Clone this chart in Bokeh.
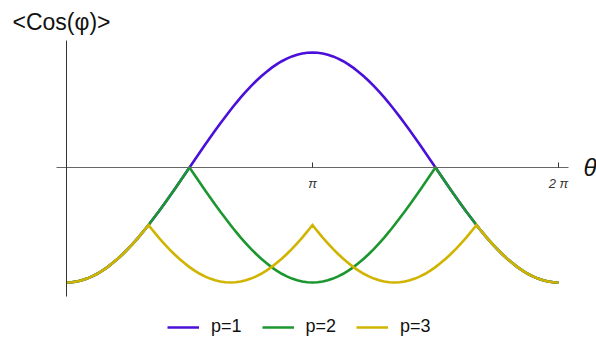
import math
from bokeh.plotting import figure
from bokeh.models import (Range1d, LinearAxis, FixedTicker, Legend,
                          LegendItem, Label)
from bokeh.embed import file_html
from bokeh.resources import INLINE

# ---- data ----
theta_deg = [0, 3.75, 7.5, 11.25, 15, 18.75, 22.5, 26.25, 30, 33.75, 37.5, 41.25,
             45, 48.75, 52.5, 56.25, 60, 63.75, 67.5, 71.25, 75, 78.75, 82.5, 86.25,
             90, 93.75, 97.5, 101.25, 105, 108.75, 112.5, 116.25, 120, 123.75, 127.5, 131.25,
             135, 138.75, 142.5, 146.25, 150, 153.75, 157.5, 161.25, 165, 168.75, 172.5, 176.25,
             180, 183.75, 187.5, 191.25, 195, 198.75, 202.5, 206.25, 210, 213.75, 217.5, 221.25,
             225, 228.75, 232.5, 236.25, 240, 243.75, 247.5, 251.25, 255, 258.75, 262.5, 266.25,
             270, 273.75, 277.5, 281.25, 285, 288.75, 292.5, 296.25, 300, 303.75, 307.5, 311.25,
             315, 318.75, 322.5, 326.25, 330, 333.75, 337.5, 341.25, 345, 348.75, 352.5, 356.25,
             360]

p1 = [-1.000, -0.998, -0.991, -0.981, -0.966, -0.947, -0.924, -0.897, -0.866, -0.831, -0.793, -0.752,
      -0.707, -0.659, -0.609, -0.556, -0.500, -0.442, -0.383, -0.321, -0.259, -0.195, -0.131, -0.065,
      0.000, 0.065, 0.131, 0.195, 0.259, 0.321, 0.383, 0.442, 0.500, 0.556, 0.609, 0.659,
      0.707, 0.752, 0.793, 0.831, 0.866, 0.897, 0.924, 0.947, 0.966, 0.981, 0.991, 0.998,
      1.000, 0.998, 0.991, 0.981, 0.966, 0.947, 0.924, 0.897, 0.866, 0.831, 0.793, 0.752,
      0.707, 0.659, 0.609, 0.556, 0.500, 0.442, 0.383, 0.321, 0.259, 0.195, 0.131, 0.065,
      0.000, -0.065, -0.131, -0.195, -0.259, -0.321, -0.383, -0.442, -0.500, -0.556, -0.609, -0.659,
      -0.707, -0.752, -0.793, -0.831, -0.866, -0.897, -0.924, -0.947, -0.966, -0.981, -0.991, -0.998,
      -1.000]

p2 = [-1.000, -0.998, -0.991, -0.981, -0.966, -0.947, -0.924, -0.897, -0.866, -0.831, -0.793, -0.752,
      -0.707, -0.659, -0.609, -0.556, -0.500, -0.442, -0.383, -0.321, -0.259, -0.195, -0.131, -0.065,
      0.000, -0.065, -0.131, -0.195, -0.259, -0.321, -0.383, -0.442, -0.500, -0.556, -0.609, -0.659,
      -0.707, -0.752, -0.793, -0.831, -0.866, -0.897, -0.924, -0.947, -0.966, -0.981, -0.991, -0.998,
      -1.000, -0.998, -0.991, -0.981, -0.966, -0.947, -0.924, -0.897, -0.866, -0.831, -0.793, -0.752,
      -0.707, -0.659, -0.609, -0.556, -0.500, -0.442, -0.383, -0.321, -0.259, -0.195, -0.131, -0.065,
      0.000, -0.065, -0.131, -0.195, -0.259, -0.321, -0.383, -0.442, -0.500, -0.556, -0.609, -0.659,
      -0.707, -0.752, -0.793, -0.831, -0.866, -0.897, -0.924, -0.947, -0.966, -0.981, -0.991, -0.998,
      -1.000]

p3 = [-1.000, -0.998, -0.991, -0.981, -0.966, -0.947, -0.924, -0.897, -0.866, -0.831, -0.793, -0.752,
      -0.707, -0.659, -0.609, -0.556, -0.500, -0.556, -0.609, -0.659, -0.707, -0.752, -0.793, -0.831,
      -0.866, -0.897, -0.924, -0.947, -0.966, -0.981, -0.991, -0.998, -1.000, -0.998, -0.991, -0.981,
      -0.966, -0.947, -0.924, -0.897, -0.866, -0.831, -0.793, -0.752, -0.707, -0.659, -0.609, -0.556,
      -0.500, -0.556, -0.609, -0.659, -0.707, -0.752, -0.793, -0.831, -0.866, -0.897, -0.924, -0.947,
      -0.966, -0.981, -0.991, -0.998, -1.000, -0.998, -0.991, -0.981, -0.966, -0.947, -0.924, -0.897,
      -0.866, -0.831, -0.793, -0.752, -0.707, -0.659, -0.609, -0.556, -0.500, -0.556, -0.609, -0.659,
      -0.707, -0.752, -0.793, -0.831, -0.866, -0.897, -0.924, -0.947, -0.966, -0.981, -0.991, -0.998,
      -1.000]

series_names = ["p=1", "p=2", "p=3"]
series_colors = ["#4a10da", "#1c962e", "#d0b400"]

tick_values = [math.pi, 2 * math.pi]
tick_labels = ["π", "2 π"]

x_label = "θ"
y_label = "<Cos(φ)>"

# extents of the drawn axes (data units)
x_axis_bounds = (-0.128, 6.411)
y_axis_bounds = (-1.122, 1.104)

# ---- figure ----
theta = [d * math.pi / 180.0 for d in theta_deg]

xr = Range1d(-0.843, 6.769)
yr = Range1d(-1.513, 1.452)

p = figure(width=596, height=341, x_range=xr, y_range=yr,
           x_axis_type=None, y_axis_type=None,
           output_backend="svg", toolbar_location=None,
           min_border=0)
p.outline_line_color = None
p.background_fill_color = "white"
p.border_fill_color = "white"

xaxis = LinearAxis(fixed_location=0, bounds=x_axis_bounds,
                   ticker=FixedTicker(ticks=tick_values),
                   major_label_overrides={v: t for v, t in zip(tick_values, tick_labels)})
xaxis.axis_line_color = "#666666"
xaxis.axis_line_width = 1
xaxis.major_tick_line_color = "#333333"
xaxis.major_tick_in = 5
xaxis.major_tick_out = 0
xaxis.minor_tick_line_color = None
xaxis.major_label_standoff = 9
xaxis.major_label_text_font = "Liberation Sans"
xaxis.major_label_text_font_size = "13px"
xaxis.major_label_text_font_style = "italic"
xaxis.major_label_text_color = "#333333"
p.add_layout(xaxis, "below")

yaxis = LinearAxis(fixed_location=0, bounds=y_axis_bounds,
                   ticker=FixedTicker(ticks=[]))
yaxis.axis_line_color = "#333333"
yaxis.axis_line_width = 1
yaxis.major_tick_line_color = None
yaxis.minor_tick_line_color = None
yaxis.major_label_text_font_size = "0px"
p.add_layout(yaxis, "left")

renderers = []
for ys, color in zip([p1, p2, p3], series_colors):
    r = p.line(theta, ys, line_color=color, line_width=2.6, line_join="miter")
    renderers.append(r)

legend = Legend(items=[LegendItem(label=n, renderers=[r])
                       for n, r in zip(series_names, renderers)],
                orientation="horizontal", location=(167, 4))
legend.glyph_width = 32
legend.glyph_height = 20
legend.label_height = 20
legend.label_standoff = 12
legend.spacing = 20
legend.padding = 0
legend.margin = 0
legend.border_line_color = None
legend.background_fill_alpha = 0
legend.label_text_font = "Liberation Sans"
legend.label_text_font_size = "18px"
legend.label_text_color = "#111111"
p.add_layout(legend, "center")

title_lbl = Label(x=x_axis_bounds[0], y=y_axis_bounds[1], x_offset=-44, y_offset=19,
                  text=y_label, text_font="Liberation Sans",
                  text_font_size="23px", text_baseline="middle",
                  text_align="left", text_color="#111111")
p.add_layout(title_lbl)

theta_lbl = Label(x=x_axis_bounds[1], y=0, x_offset=15, y_offset=0,
                  text=x_label, text_font="Liberation Sans",
                  text_font_size="24px", text_font_style="italic",
                  text_baseline="middle", text_align="left",
                  text_color="#111111")
p.add_layout(theta_lbl)

open("out.html", "w").write(file_html(p, INLINE))
